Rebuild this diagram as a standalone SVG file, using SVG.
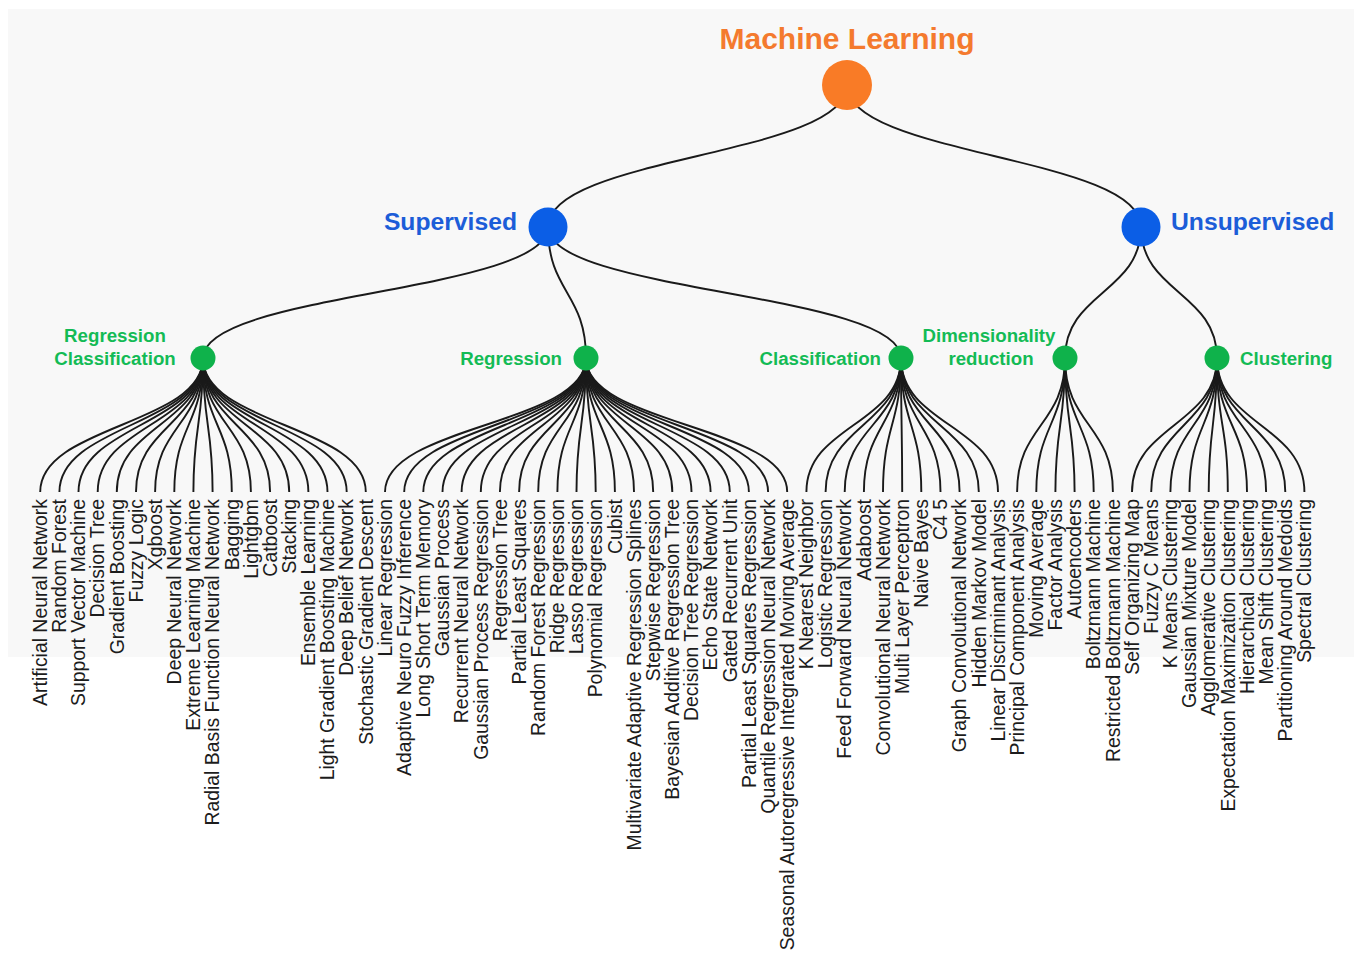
<svg xmlns="http://www.w3.org/2000/svg" width="1354" height="956" viewBox="0 0 1354 956">
<style>
.bg{fill:#f8f8f8}
.lk{fill:none;stroke:#1a1a1a;stroke-width:1.9}
.leaf{font-family:"Liberation Sans",Arial,sans-serif;font-size:19.4px;fill:#1c1c1c;text-anchor:end}
.root{fill:#f97b26}
.rootT{font-family:"Liberation Sans",Arial,sans-serif;font-weight:bold;font-size:30px;fill:#f47a2e;text-anchor:middle}
.l1{fill:#0b5ee6}
.l1T{font-family:"Liberation Sans",Arial,sans-serif;font-weight:bold;font-size:24.7px;fill:#1c5dd8}
.l2{fill:#0fb24b}
.l2T{font-family:"Liberation Sans",Arial,sans-serif;font-weight:bold;font-size:18.7px;fill:#13bb55}
</style>
<rect class="bg" x="8" y="9" width="1346" height="648"/>
<g id="connectors">
<path class="lk" d="M847,85 C847,156 548,156 548,227"/>
<path class="lk" d="M847,85 C847,156 1141,156 1141,227"/>
<path class="lk" d="M548,227 C548,292.5 203,292.5 203,358"/>
<path class="lk" d="M548,227 C548,292.5 586,292.5 586,358"/>
<path class="lk" d="M548,227 C548,292.5 901,292.5 901,358"/>
<path class="lk" d="M1141,227 C1141,292.5 1065,292.5 1065,358"/>
<path class="lk" d="M1141,227 C1141,292.5 1217,292.5 1217,358"/>
<path class="lk" d="M203,358 C203,425 40.2,425 40.2,492"/>
<path class="lk" d="M203,358 C203,425 59.4,425 59.4,492"/>
<path class="lk" d="M203,358 C203,425 78.5,425 78.5,492"/>
<path class="lk" d="M203,358 C203,425 97.7,425 97.7,492"/>
<path class="lk" d="M203,358 C203,425 116.8,425 116.8,492"/>
<path class="lk" d="M203,358 C203,425 136,425 136,492"/>
<path class="lk" d="M203,358 C203,425 155.1,425 155.1,492"/>
<path class="lk" d="M203,358 C203,425 174.3,425 174.3,492"/>
<path class="lk" d="M203,358 C203,425 193.4,425 193.4,492"/>
<path class="lk" d="M203,358 C203,425 212.6,425 212.6,492"/>
<path class="lk" d="M203,358 C203,425 231.8,425 231.8,492"/>
<path class="lk" d="M203,358 C203,425 250.9,425 250.9,492"/>
<path class="lk" d="M203,358 C203,425 270.1,425 270.1,492"/>
<path class="lk" d="M203,358 C203,425 289.2,425 289.2,492"/>
<path class="lk" d="M203,358 C203,425 308.4,425 308.4,492"/>
<path class="lk" d="M203,358 C203,425 327.5,425 327.5,492"/>
<path class="lk" d="M203,358 C203,425 346.7,425 346.7,492"/>
<path class="lk" d="M203,358 C203,425 365.8,425 365.8,492"/>
<path class="lk" d="M586,358 C586,425 385,425 385,492"/>
<path class="lk" d="M586,358 C586,425 404.2,425 404.2,492"/>
<path class="lk" d="M586,358 C586,425 423.3,425 423.3,492"/>
<path class="lk" d="M586,358 C586,425 442.5,425 442.5,492"/>
<path class="lk" d="M586,358 C586,425 461.6,425 461.6,492"/>
<path class="lk" d="M586,358 C586,425 480.8,425 480.8,492"/>
<path class="lk" d="M586,358 C586,425 499.9,425 499.9,492"/>
<path class="lk" d="M586,358 C586,425 519.1,425 519.1,492"/>
<path class="lk" d="M586,358 C586,425 538.2,425 538.2,492"/>
<path class="lk" d="M586,358 C586,425 557.4,425 557.4,492"/>
<path class="lk" d="M586,358 C586,425 576.5,425 576.5,492"/>
<path class="lk" d="M586,358 C586,425 595.7,425 595.7,492"/>
<path class="lk" d="M586,358 C586,425 614.9,425 614.9,492"/>
<path class="lk" d="M586,358 C586,425 634,425 634,492"/>
<path class="lk" d="M586,358 C586,425 653.2,425 653.2,492"/>
<path class="lk" d="M586,358 C586,425 672.3,425 672.3,492"/>
<path class="lk" d="M586,358 C586,425 691.5,425 691.5,492"/>
<path class="lk" d="M586,358 C586,425 710.6,425 710.6,492"/>
<path class="lk" d="M586,358 C586,425 729.8,425 729.8,492"/>
<path class="lk" d="M586,358 C586,425 748.9,425 748.9,492"/>
<path class="lk" d="M586,358 C586,425 768.1,425 768.1,492"/>
<path class="lk" d="M586,358 C586,425 787.2,425 787.2,492"/>
<path class="lk" d="M901,358 C901,425 806.4,425 806.4,492"/>
<path class="lk" d="M901,358 C901,425 825.6,425 825.6,492"/>
<path class="lk" d="M901,358 C901,425 844.7,425 844.7,492"/>
<path class="lk" d="M901,358 C901,425 863.9,425 863.9,492"/>
<path class="lk" d="M901,358 C901,425 883,425 883,492"/>
<path class="lk" d="M901,358 C901,425 902.2,425 902.2,492"/>
<path class="lk" d="M901,358 C901,425 921.3,425 921.3,492"/>
<path class="lk" d="M901,358 C901,425 940.5,425 940.5,492"/>
<path class="lk" d="M901,358 C901,425 959.6,425 959.6,492"/>
<path class="lk" d="M901,358 C901,425 978.8,425 978.8,492"/>
<path class="lk" d="M901,358 C901,425 998,425 998,492"/>
<path class="lk" d="M1065,358 C1065,425 1017.1,425 1017.1,492"/>
<path class="lk" d="M1065,358 C1065,425 1036.3,425 1036.3,492"/>
<path class="lk" d="M1065,358 C1065,425 1055.4,425 1055.4,492"/>
<path class="lk" d="M1065,358 C1065,425 1074.6,425 1074.6,492"/>
<path class="lk" d="M1065,358 C1065,425 1093.7,425 1093.7,492"/>
<path class="lk" d="M1065,358 C1065,425 1112.9,425 1112.9,492"/>
<path class="lk" d="M1217,358 C1217,425 1132,425 1132,492"/>
<path class="lk" d="M1217,358 C1217,425 1151.2,425 1151.2,492"/>
<path class="lk" d="M1217,358 C1217,425 1170.4,425 1170.4,492"/>
<path class="lk" d="M1217,358 C1217,425 1189.5,425 1189.5,492"/>
<path class="lk" d="M1217,358 C1217,425 1208.7,425 1208.7,492"/>
<path class="lk" d="M1217,358 C1217,425 1227.8,425 1227.8,492"/>
<path class="lk" d="M1217,358 C1217,425 1247,425 1247,492"/>
<path class="lk" d="M1217,358 C1217,425 1266.1,425 1266.1,492"/>
<path class="lk" d="M1217,358 C1217,425 1285.3,425 1285.3,492"/>
<path class="lk" d="M1217,358 C1217,425 1304.4,425 1304.4,492"/>
</g>
<g id="node-ml"><circle class="root" cx="847" cy="85" r="25"/><text class="rootT" x="847" y="49">Machine Learning</text></g>
<g id="node-supervised"><circle class="l1" cx="548" cy="227" r="19.5"/><text class="l1T" x="517" y="230" text-anchor="end">Supervised</text></g>
<g id="node-unsupervised"><circle class="l1" cx="1141" cy="227" r="19.5"/><text class="l1T" x="1171" y="230">Unsupervised</text></g>
<g id="node-regcls"><circle class="l2" cx="203" cy="358" r="12.5"/><text class="l2T" x="115" y="342" text-anchor="middle">Regression</text><text class="l2T" x="115" y="365" text-anchor="middle">Classification</text></g>
<g id="node-regression"><circle class="l2" cx="586" cy="358" r="12.5"/><text class="l2T" x="562" y="365" text-anchor="end">Regression</text></g>
<g id="node-classification"><circle class="l2" cx="901" cy="358" r="12.5"/><text class="l2T" x="881" y="365" text-anchor="end">Classification</text></g>
<g id="node-dimred"><circle class="l2" cx="1065" cy="358" r="12.5"/><text class="l2T" x="989" y="342" text-anchor="middle">Dimensionality</text><text class="l2T" x="991" y="365" text-anchor="middle">reduction</text></g>
<g id="node-clustering"><circle class="l2" cx="1217" cy="358" r="12.5"/><text class="l2T" x="1240" y="365">Clustering</text></g>
<g id="leaves">
<text class="leaf" transform="translate(46.9,499) rotate(-90)">Artificial Neural Network</text>
<text class="leaf" transform="translate(66.1,499) rotate(-90)">Random Forest</text>
<text class="leaf" transform="translate(85.2,499) rotate(-90)">Support Vector Machine</text>
<text class="leaf" transform="translate(104.4,499) rotate(-90)">Decision Tree</text>
<text class="leaf" transform="translate(123.5,499) rotate(-90)">Gradient Boosting</text>
<text class="leaf" transform="translate(142.7,499) rotate(-90)">Fuzzy Logic</text>
<text class="leaf" transform="translate(161.8,499) rotate(-90)">Xgboost</text>
<text class="leaf" transform="translate(181,499) rotate(-90)">Deep Neural Network</text>
<text class="leaf" transform="translate(200.1,499) rotate(-90)">Extreme Learning Machine</text>
<text class="leaf" transform="translate(219.3,499) rotate(-90)">Radial Basis Function Neural Network</text>
<text class="leaf" transform="translate(238.5,499) rotate(-90)">Bagging</text>
<text class="leaf" transform="translate(257.6,499) rotate(-90)">Lightgbm</text>
<text class="leaf" transform="translate(276.8,499) rotate(-90)">Catboost</text>
<text class="leaf" transform="translate(295.9,499) rotate(-90)">Stacking</text>
<text class="leaf" transform="translate(315.1,499) rotate(-90)">Ensemble Learning</text>
<text class="leaf" transform="translate(334.2,499) rotate(-90)">Light Gradient Boosting Machine</text>
<text class="leaf" transform="translate(353.4,499) rotate(-90)">Deep Belief Network</text>
<text class="leaf" transform="translate(372.5,499) rotate(-90)">Stochastic Gradient Descent</text>
<text class="leaf" transform="translate(391.7,499) rotate(-90)">Linear Regression</text>
<text class="leaf" transform="translate(410.9,499) rotate(-90)">Adaptive Neuro Fuzzy Inference</text>
<text class="leaf" transform="translate(430,499) rotate(-90)">Long Short Term Memory</text>
<text class="leaf" transform="translate(449.2,499) rotate(-90)">Gaussian Process</text>
<text class="leaf" transform="translate(468.3,499) rotate(-90)">Recurrent Neural Network</text>
<text class="leaf" transform="translate(487.5,499) rotate(-90)">Gaussian Process Regression</text>
<text class="leaf" transform="translate(506.6,499) rotate(-90)">Regression Tree</text>
<text class="leaf" transform="translate(525.8,499) rotate(-90)">Partial Least Squares</text>
<text class="leaf" transform="translate(544.9,499) rotate(-90)">Random Forest Regression</text>
<text class="leaf" transform="translate(564.1,499) rotate(-90)">Ridge Regression</text>
<text class="leaf" transform="translate(583.2,499) rotate(-90)">Lasso Regression</text>
<text class="leaf" transform="translate(602.4,499) rotate(-90)">Polynomial Regression</text>
<text class="leaf" transform="translate(621.6,499) rotate(-90)">Cubist</text>
<text class="leaf" transform="translate(640.7,499) rotate(-90)">Multivariate Adaptive Regression Splines</text>
<text class="leaf" transform="translate(659.9,499) rotate(-90)">Stepwise Regression</text>
<text class="leaf" transform="translate(679,499) rotate(-90)">Bayesian Additive Regression Tree</text>
<text class="leaf" transform="translate(698.2,499) rotate(-90)">Decision Tree Regression</text>
<text class="leaf" transform="translate(717.3,499) rotate(-90)">Echo State Network</text>
<text class="leaf" transform="translate(736.5,499) rotate(-90)">Gated Recurrent Unit</text>
<text class="leaf" transform="translate(755.6,499) rotate(-90)">Partial Least Squares Regression</text>
<text class="leaf" transform="translate(774.8,499) rotate(-90)">Quantile Regression Neural Network</text>
<text class="leaf" transform="translate(793.9,499) rotate(-90)">Seasonal Autoregressive Integrated Moving Average</text>
<text class="leaf" transform="translate(813.1,499) rotate(-90)">K Nearest Neighbor</text>
<text class="leaf" transform="translate(832.3,499) rotate(-90)">Logistic Regression</text>
<text class="leaf" transform="translate(851.4,499) rotate(-90)">Feed Forward Neural Network</text>
<text class="leaf" transform="translate(870.6,499) rotate(-90)">Adaboost</text>
<text class="leaf" transform="translate(889.7,499) rotate(-90)">Convolutional Neural Network</text>
<text class="leaf" transform="translate(908.9,499) rotate(-90)">Multi Layer Perceptron</text>
<text class="leaf" transform="translate(928,499) rotate(-90)">Naive Bayes</text>
<text class="leaf" transform="translate(947.2,499) rotate(-90)">C4 5</text>
<text class="leaf" transform="translate(966.3,499) rotate(-90)">Graph Convolutional Network</text>
<text class="leaf" transform="translate(985.5,499) rotate(-90)">Hidden Markov Model</text>
<text class="leaf" transform="translate(1004.7,499) rotate(-90)">Linear Discriminant Analysis</text>
<text class="leaf" transform="translate(1023.8,499) rotate(-90)">Principal Component Analysis</text>
<text class="leaf" transform="translate(1043,499) rotate(-90)">Moving Average</text>
<text class="leaf" transform="translate(1062.1,499) rotate(-90)">Factor Analysis</text>
<text class="leaf" transform="translate(1081.3,499) rotate(-90)">Autoencoders</text>
<text class="leaf" transform="translate(1100.4,499) rotate(-90)">Boltzmann Machine</text>
<text class="leaf" transform="translate(1119.6,499) rotate(-90)">Restricted Boltzmann Machine</text>
<text class="leaf" transform="translate(1138.7,499) rotate(-90)">Self Organizing Map</text>
<text class="leaf" transform="translate(1157.9,499) rotate(-90)">Fuzzy C Means</text>
<text class="leaf" transform="translate(1177.1,499) rotate(-90)">K Means Clustering</text>
<text class="leaf" transform="translate(1196.2,499) rotate(-90)">Gaussian Mixture Model</text>
<text class="leaf" transform="translate(1215.4,499) rotate(-90)">Agglomerative Clustering</text>
<text class="leaf" transform="translate(1234.5,499) rotate(-90)">Expectation Maximization Clustering</text>
<text class="leaf" transform="translate(1253.7,499) rotate(-90)">Hierarchical Clustering</text>
<text class="leaf" transform="translate(1272.8,499) rotate(-90)">Mean Shift Clustering</text>
<text class="leaf" transform="translate(1292,499) rotate(-90)">Partitioning Around Medoids</text>
<text class="leaf" transform="translate(1311.1,499) rotate(-90)">Spectral Clustering</text>
</g>
</svg>
